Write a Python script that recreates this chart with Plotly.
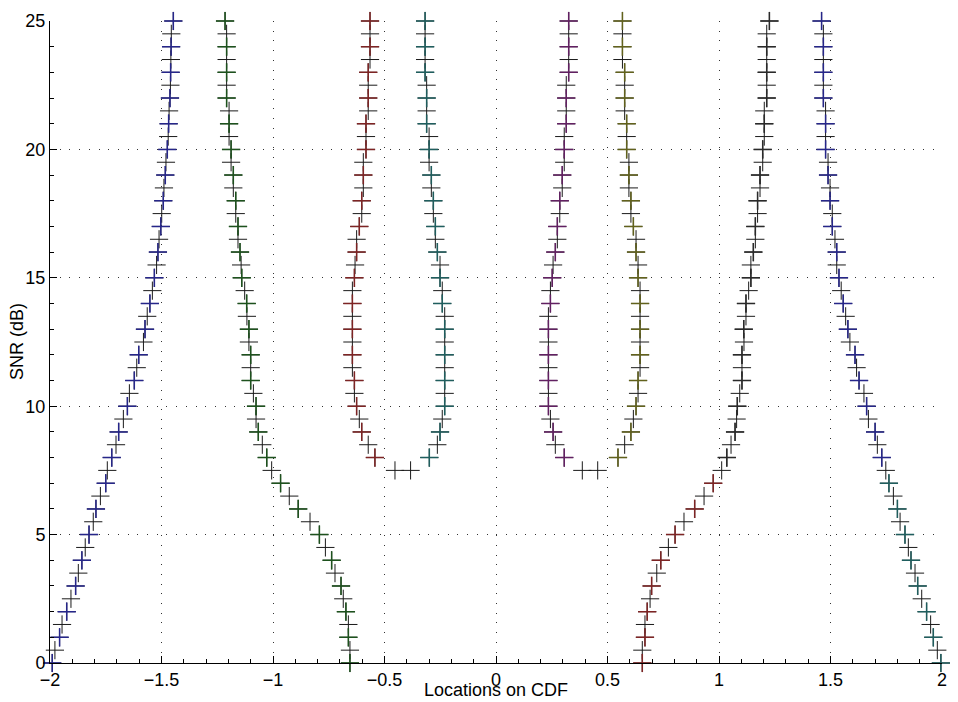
import plotly.graph_objects as go

# SNR grids (dB)
snr_full = [0, 0.5, 1, 1.5, 2, 2.5, 3, 3.5, 4, 4.5, 5, 5.5, 6, 6.5, 7, 7.5, 8, 8.5, 9, 9.5,
            10, 10.5, 11, 11.5, 12, 12.5, 13, 13.5, 14, 14.5, 15, 15.5, 16, 16.5, 17, 17.5,
            18, 18.5, 19, 19.5, 20, 20.5, 21, 21.5, 22, 22.5, 23, 23.5, 24, 24.5, 25]
snr_upper = [8, 8.5, 9, 9.5, 10, 10.5, 11, 11.5, 12, 12.5, 13, 13.5, 14, 14.5, 15, 15.5,
             16, 16.5, 17, 17.5, 18, 18.5, 19, 19.5, 20, 20.5, 21, 21.5, 22, 22.5, 23, 23.5,
             24, 24.5, 25]
snr_bottom = [7.5, 7.5]

# Locations on CDF, one list per branch
left_outer = [-1.99, -1.978, -1.957, -1.946, -1.925, -1.906, -1.885, -1.873, -1.857, -1.842,
              -1.825, -1.806, -1.794, -1.774, -1.750, -1.743, -1.723, -1.704, -1.692, -1.671,
              -1.653, -1.644, -1.622, -1.611, -1.602, -1.581, -1.574, -1.564, -1.552, -1.541,
              -1.532, -1.522, -1.516, -1.511, -1.503, -1.499, -1.492, -1.489, -1.483, -1.480,
              -1.474, -1.470, -1.468, -1.466, -1.462, -1.460, -1.459, -1.458, -1.457, -1.456,
              -1.447]
left_inner = [-0.655, -0.655, -0.662, -0.662, -0.673, -0.685, -0.695, -0.722, -0.737, -0.765,
              -0.792, -0.834, -0.887, -0.927, -0.966, -1.006, -1.028, -1.048, -1.066, -1.076,
              -1.076, -1.088, -1.100, -1.100, -1.100, -1.108, -1.108, -1.117, -1.118, -1.127,
              -1.140, -1.143, -1.148, -1.157, -1.157, -1.167, -1.167, -1.178, -1.178, -1.188,
              -1.188, -1.197, -1.197, -1.197, -1.208, -1.208, -1.208, -1.208, -1.208, -1.208,
              -1.215]
center_left_a = [-0.543, -0.573, -0.602, -0.613, -0.625, -0.635, -0.635, -0.644, -0.644, -0.644,
                 -0.644, -0.644, -0.644, -0.644, -0.635, -0.632, -0.625, -0.625, -0.613, -0.602,
                 -0.602, -0.595, -0.595, -0.595, -0.583, -0.583, -0.583, -0.573, -0.573, -0.573,
                 -0.573, -0.565, -0.565, -0.565, -0.565]
center_left_b = [-0.299, -0.263, -0.251, -0.241, -0.230, -0.230, -0.230, -0.230, -0.230, -0.230,
                 -0.230, -0.230, -0.241, -0.241, -0.251, -0.251, -0.263, -0.272, -0.272, -0.281,
                 -0.281, -0.290, -0.290, -0.300, -0.300, -0.300, -0.311, -0.311, -0.311, -0.311,
                 -0.318, -0.318, -0.318, -0.318, -0.318]
center_left_bottom = [-0.453, -0.383]
center_right_a = [0.306, 0.266, 0.256, 0.244, 0.235, 0.235, 0.235, 0.235, 0.235, 0.235,
                  0.235, 0.235, 0.244, 0.244, 0.252, 0.256, 0.266, 0.275, 0.275, 0.286,
                  0.286, 0.297, 0.297, 0.306, 0.306, 0.306, 0.315, 0.315, 0.315, 0.315,
                  0.326, 0.326, 0.326, 0.326, 0.326]
center_right_b = [0.547, 0.577, 0.605, 0.616, 0.628, 0.637, 0.637, 0.646, 0.646, 0.646,
                  0.646, 0.646, 0.646, 0.646, 0.637, 0.637, 0.628, 0.628, 0.616, 0.605,
                  0.605, 0.596, 0.596, 0.596, 0.586, 0.586, 0.586, 0.577, 0.577, 0.577,
                  0.577, 0.567, 0.567, 0.567, 0.567]
center_right_bottom = [0.387, 0.456]
right_inner = [0.656, 0.656, 0.668, 0.668, 0.678, 0.691, 0.698, 0.721, 0.739, 0.773,
               0.803, 0.843, 0.891, 0.933, 0.974, 1.012, 1.035, 1.054, 1.072, 1.079,
               1.082, 1.093, 1.103, 1.103, 1.103, 1.112, 1.111, 1.121, 1.121, 1.133,
               1.143, 1.143, 1.154, 1.163, 1.163, 1.173, 1.173, 1.184, 1.184, 1.196,
               1.196, 1.203, 1.203, 1.203, 1.214, 1.214, 1.214, 1.214, 1.214, 1.214,
               1.226]
right_outer = [1.995, 1.979, 1.961, 1.949, 1.931, 1.909, 1.891, 1.879, 1.861, 1.849,
               1.834, 1.812, 1.800, 1.782, 1.762, 1.748, 1.730, 1.710, 1.700, 1.670,
               1.662, 1.650, 1.628, 1.617, 1.610, 1.587, 1.578, 1.568, 1.557, 1.548,
               1.538, 1.528, 1.528, 1.520, 1.508, 1.508, 1.498, 1.498, 1.489, 1.489,
               1.478, 1.478, 1.478, 1.478, 1.468, 1.468, 1.468, 1.468, 1.468, 1.468,
               1.460]

# colour order (MATLAB-like b, g, r, c, m, y, k) as it appears in the picture
color_order = ['#26268a', '#1d521d', '#7e2424', '#1f5e5e', '#622062', '#62621c', '#2a2a2a']

x_ticks = [-2, -1.5, -1, -0.5, 0, 0.5, 1, 1.5, 2]
y_ticks = [0, 5, 10, 15, 20, 25]

branches = [
    (snr_full, left_outer), (snr_full, left_inner),
    (snr_upper, center_left_a), (snr_upper, center_left_b),
    (snr_bottom, center_left_bottom),
    (snr_upper, center_right_a), (snr_upper, center_right_b),
    (snr_bottom, center_right_bottom),
    (snr_full, right_inner), (snr_full, right_outer),
]

fig = go.Figure()

# black '+' at every half-dB step
for ys, xs in branches:
    fig.add_trace(go.Scatter(
        x=xs, y=ys, mode='markers', showlegend=False, cliponaxis=False,
        marker=dict(symbol='cross-thin', size=13, line=dict(width=1, color='#1a1a1a')),
    ))

# coloured '+' at integer SNR values, coloured by rank of location at that SNR
int_pts = {}
for ys, xs in branches:
    for y, x in zip(ys, xs):
        if float(y).is_integer():
            int_pts.setdefault(y, []).append(x)
col_x = {c: [] for c in color_order}
col_y = {c: [] for c in color_order}
for y, xs in int_pts.items():
    for i, x in enumerate(sorted(xs)):
        c = color_order[i % len(color_order)]
        col_x[c].append(x)
        col_y[c].append(y)
for c in color_order:
    fig.add_trace(go.Scatter(
        x=col_x[c], y=col_y[c], mode='markers', showlegend=False, cliponaxis=False,
        marker=dict(symbol='cross-thin', size=13, line=dict(width=1.5, color=c)),
    ))

font = dict(family='Liberation Sans, Arial, Helvetica, sans-serif', size=18, color='black')

fig.update_layout(
    width=958, height=702,
    margin=dict(l=50, r=16, t=11, b=39),
    paper_bgcolor='white', plot_bgcolor='white',
    font=font,
    xaxis=dict(
        range=[-2, 2], tickvals=x_ticks, ticktext=[f'{v:g}'.replace('-', '\u2212') for v in x_ticks],
        showline=True, linecolor='black', linewidth=1, mirror=False,
        ticks='inside', ticklen=7, tickcolor='black',
        showgrid=True, gridcolor='#333333', gridwidth=1, griddash='1px,8.7px',
        zeroline=False,
        minor=dict(ticks='inside', ticklen=4, dtick=0.1, tickcolor='black', showgrid=False),
    ),
    yaxis=dict(
        range=[0, 25], tickvals=y_ticks,
        showline=True, linecolor='black', linewidth=1, mirror=False,
        ticks='inside', ticklen=7, tickcolor='black',
        showgrid=True, gridcolor='#333333', gridwidth=1, griddash='1px,8.7px',
        zeroline=False,
        minor=dict(ticks='inside', ticklen=4, dtick=1, tickcolor='black', showgrid=False),
    ),
    annotations=[
        dict(text='Locations on CDF', xref='paper', yref='paper', x=0.5, y=-27 / 652,
             xanchor='center', yanchor='middle', showarrow=False, font=font),
        dict(text='SNR (dB)', xref='paper', yref='paper', x=-33 / 892, y=0.5,
             xanchor='center', yanchor='middle', showarrow=False, textangle=-90, font=font),
    ],
)

fig.write_html('out.html')
